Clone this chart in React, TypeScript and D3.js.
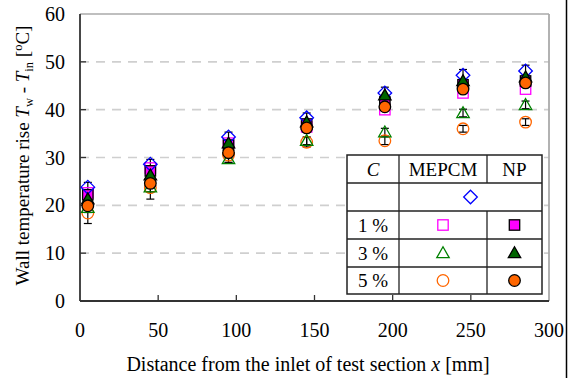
import React from "react";
import * as d3 from "d3";

const positions = [5, 45, 95, 145, 195, 245, 285];
const baseFluid = [23.8, 28.6, 34.3, 38.3, 43.5, 47.2, 48.1];
const mepcm1 = [22.6, 27.8, 33.0, 36.4, 40.0, 43.5, 44.3];
const np1 = [22.2, 27.2, 32.6, 37.0, 41.6, 45.2, 46.0];
const mepcm3 = [19.5, 23.8, 29.7, 33.5, 35.3, 39.3, 41.0];
const np3 = [21.3, 26.3, 33.0, 37.4, 43.0, 46.0, 46.8];
const mepcm5 = [18.4, 23.7, 30.5, 33.2, 33.5, 36.0, 37.4];
const np5 = [19.9, 24.6, 31.0, 36.2, 40.6, 44.3, 45.6];
const baseErr = [1.0, 1.0, 1.0, 1.0, 1.2, 1.2, 1.2];
const mepcm3Err = [1.0, 1.0, 0.8, 0.8, 0.8, 0.8, 0.8];
const mepcm5Err = [2.2, 2.4, 1.5, 1.0, 0.8, 0.7, 0.7];
const xTicks = [0, 50, 100, 150, 200, 250, 300];
const yTicks = [0, 10, 20, 30, 40, 50, 60];
const gridTicks = [10, 20, 30, 40, 50];

const W = 568;
const H = 378;
const L = 80, R = 549, T = 14, B = 301;

const x = d3.scaleLinear().domain([0, 300]).range([L, R]);
const y = d3.scaleLinear().domain([0, 60]).range([B, T]);

const FONT = "Liberation Serif, Times New Roman, Times, serif";

type Kind = "diamond" | "square" | "triangle" | "circle";

function Marker({ kind, cx, cy, fill, stroke, sw = 1.3 }: { kind: Kind; cx: number; cy: number; fill: string; stroke: string; sw?: number }) {
  if (kind === "diamond") {
    const s = 6.8;
    return <path d={`M${cx},${cy - s}L${cx + s},${cy}L${cx},${cy + s}L${cx - s},${cy}Z`} fill={fill} stroke={stroke} strokeWidth={sw} />;
  }
  if (kind === "square") {
    const s = 5.2;
    return <rect x={cx - s} y={cy - s} width={2 * s} height={2 * s} fill={fill} stroke={stroke} strokeWidth={sw} />;
  }
  if (kind === "triangle") {
    const s = 6.2;
    return <path d={`M${cx},${cy - s}L${cx + s},${cy + s * 0.75}L${cx - s},${cy + s * 0.75}Z`} fill={fill} stroke={stroke} strokeWidth={sw} />;
  }
  return <circle cx={cx} cy={cy} r={5.8} fill={fill} stroke={stroke} strokeWidth={sw} />;
}

const seriesList: { values: number[]; kind: Kind; fill: string; stroke: string; err?: number[] }[] = [
  { values: mepcm5, kind: "circle", fill: "none", stroke: "#ff6600", err: mepcm5Err },
  { values: mepcm3, kind: "triangle", fill: "none", stroke: "#008000", err: mepcm3Err },
  { values: mepcm1, kind: "square", fill: "none", stroke: "#ff00ff" },
  { values: np1, kind: "square", fill: "#ff00ff", stroke: "#000" },
  { values: baseFluid, kind: "diamond", fill: "none", stroke: "#0000ff", err: baseErr },
  { values: np3, kind: "triangle", fill: "#006400", stroke: "#000" },
  { values: np5, kind: "circle", fill: "#ff6600", stroke: "#000" },
];

export default function App() {
  const tl = 347, tr = 542, tt = 155, tb = 294;
  const c1 = 399, c2 = 487;
  const rows = [155, 183, 211, 239, 267, 294];
  const rowMid = (i: number) => (rows[i] + rows[i + 1]) / 2;
  const col1Mid = (tl + c1) / 2;
  const col2Mid = (c1 + c2) / 2;
  const col3Mid = (c2 + tr) / 2;
  const legendMarkers: { row: number; col: number; kind: Kind; fill: string; stroke: string }[] = [
    { row: 1, col: (c1 + tr) / 2, kind: "diamond", fill: "none", stroke: "#0000ff" },
    { row: 2, col: col2Mid, kind: "square", fill: "none", stroke: "#ff00ff" },
    { row: 2, col: col3Mid, kind: "square", fill: "#ff00ff", stroke: "#000" },
    { row: 3, col: col2Mid, kind: "triangle", fill: "none", stroke: "#008000" },
    { row: 3, col: col3Mid, kind: "triangle", fill: "#006400", stroke: "#000" },
    { row: 4, col: col2Mid, kind: "circle", fill: "none", stroke: "#ff6600" },
    { row: 4, col: col3Mid, kind: "circle", fill: "#ff6600", stroke: "#000" },
  ];
  const labels = ["1 %", "3 %", "5 %"];

  return (
    <svg width={W} height={H} style={{ position: "absolute", left: 0, top: 0, background: "#fff", fontFamily: FONT }}>
      <rect x={0} y={0} width={W} height={H} fill="#fff" />
      {gridTicks.map((t) => (
        <line key={"g" + t} x1={L} x2={R} y1={y(t)} y2={y(t)} stroke="#cfcfcf" strokeWidth={1.6} strokeDasharray="9,7" />
      ))}
      <line x1={L} x2={R} y1={T} y2={T} stroke="#aaa" strokeWidth={1.5} />
      <line x1={R} x2={R} y1={T} y2={B} stroke="#aaa" strokeWidth={1.8} />
      <line x1={L} x2={L} y1={T} y2={B} stroke="#333" strokeWidth={1.8} />
      <line x1={L} x2={R} y1={B} y2={B} stroke="#333" strokeWidth={1.8} />
      {yTicks.slice(1, -1).map((t) => (
        <line key={"yt" + t} x1={L} x2={L + 6} y1={y(t)} y2={y(t)} stroke="#333" strokeWidth={1.3} />
      ))}
      {xTicks.slice(1, -1).map((t) => (
        <line key={"xt" + t} x1={x(t)} x2={x(t)} y1={B} y2={B - 6} stroke="#333" strokeWidth={1.3} />
      ))}
      {yTicks.map((t) => (
        <text key={"yl" + t} x={65} y={y(t)} dy="0.35em" textAnchor="end" fontSize={20} fill="#000">{t}</text>
      ))}
      {xTicks.map((t) => (
        <text key={"xl" + t} x={x(t)} y={337} textAnchor="middle" fontSize={20} fill="#000">{t}</text>
      ))}
      <text x={308} y={371} textAnchor="middle" fontSize={20} fill="#000">
        Distance from the inlet of test section <tspan fontStyle="italic">x</tspan> [mm]
      </text>
      <text transform={`translate(29,${(T + B) / 2 - 2}) rotate(-90)`} textAnchor="middle" fontSize={19} fill="#000">
        Wall temperature rise <tspan fontStyle="italic">T</tspan>
        <tspan fontSize={12.5} dy={4}>w</tspan>
        <tspan dy={-4}> - </tspan>
        <tspan fontStyle="italic">T</tspan>
        <tspan fontSize={12.5} dy={4}>in</tspan>
        <tspan dy={-4}> [</tspan>
        <tspan fontSize={12.5} dy={-7}>o</tspan>
        <tspan dy={7}>C]</tspan>
      </text>
      {seriesList.map((s, si) =>
        s.err
          ? s.values.map((v, i) => {
              const px = x(positions[i]);
              const e = s.err![i];
              return (
                <g key={"e" + si + "-" + i} stroke="#000" strokeWidth={1.2}>
                  <line x1={px} x2={px} y1={y(v + e)} y2={y(v - e)} />
                  <line x1={px - 4} x2={px + 4} y1={y(v + e)} y2={y(v + e)} />
                  <line x1={px - 4} x2={px + 4} y1={y(v - e)} y2={y(v - e)} />
                </g>
              );
            })
          : null
      )}
      {seriesList.map((s, si) =>
        s.values.map((v, i) => (
          <Marker key={"m" + si + "-" + i} kind={s.kind} cx={x(positions[i])} cy={y(v)} fill={s.fill} stroke={s.stroke} />
        ))
      )}
      <rect x={tl} y={tt} width={tr - tl} height={tb - tt} fill="#fff" stroke="#222" strokeWidth={1.5} />
      {rows.slice(1, -1).map((r) => (
        <line key={"r" + r} x1={tl} x2={tr} y1={r} y2={r} stroke="#222" strokeWidth={1.3} />
      ))}
      <line x1={c1} x2={c1} y1={tt} y2={tb} stroke="#222" strokeWidth={1.3} />
      <line x1={c2} x2={c2} y1={tt} y2={rows[1]} stroke="#222" strokeWidth={1.3} />
      <line x1={c2} x2={c2} y1={rows[2]} y2={tb} stroke="#222" strokeWidth={1.3} />
      <text x={col1Mid} y={rowMid(0)} dy="0.35em" textAnchor="middle" fontSize={19} fontStyle="italic">C</text>
      <text x={col2Mid} y={rowMid(0)} dy="0.35em" textAnchor="middle" fontSize={19}>MEPCM</text>
      <text x={col3Mid} y={rowMid(0)} dy="0.35em" textAnchor="middle" fontSize={19}>NP</text>
      {labels.map((lb, i) => (
        <text key={lb} x={col1Mid} y={rowMid(i + 2)} dy="0.35em" textAnchor="middle" fontSize={19}>{lb}</text>
      ))}
      {legendMarkers.map((m, i) => (
        <Marker key={"lm" + i} kind={m.kind} cx={m.col} cy={rowMid(m.row)} fill={m.fill} stroke={m.stroke} />
      ))}
      <line x1={566.5} x2={566.5} y1={0} y2={H} stroke="#000" strokeWidth={1.5} />
    </svg>
  );
}
